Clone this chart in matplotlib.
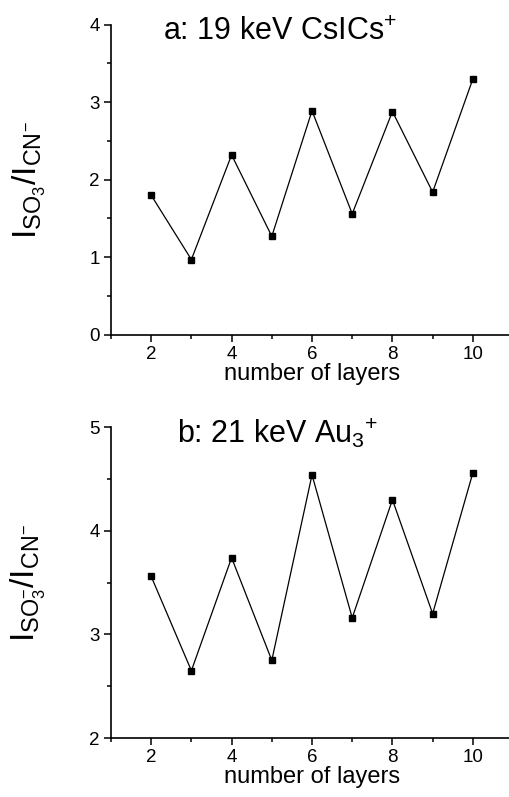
import numpy as np
import matplotlib
matplotlib.use("Agg")
import matplotlib.pyplot as plt
from matplotlib.ticker import MultipleLocator

plt.rcParams['font.family'] = ['Liberation Sans', 'DejaVu Sans']
plt.rcParams['mathtext.fontset'] = 'custom'
plt.rcParams['mathtext.rm'] = 'Liberation Sans'
plt.rcParams['mathtext.it'] = 'Liberation Sans'

layers = [2, 3, 4, 5, 6, 7, 8, 9, 10]
ratio_csics = [1.80, 0.97, 2.32, 1.27, 2.89, 1.56, 2.88, 1.84, 3.30]
ratio_au3 = [3.56, 2.65, 3.74, 2.75, 4.54, 3.16, 4.30, 3.20, 4.56]

titles = [r'a: 19 keV CsICs$^{+}$', r'b: 21 keV Au$_{3}$$^{+}$']
ylabels = [r'$\mathregular{I_{SO_3}/I_{CN^{-}}}$', r'$\mathregular{I_{SO_3^{-}}/I_{CN^{-}}}$']

fig = plt.figure(figsize=(5.09, 7.97), dpi=100)
ax1 = fig.add_axes([0.218, 0.580, 0.79, 0.389])
ax2 = fig.add_axes([0.218, 0.074, 0.79, 0.390])

for ax, y, title, ylab, ylim, tx in [(ax1, ratio_csics, titles[0], ylabels[0], (0, 4), 0.42),
                                      (ax2, ratio_au3, titles[1], ylabels[1], (2, 5), 0.415)]:
    ax.plot(layers, y, color='black', lw=0.9, marker='s', ms=4.6)
    ax.set_xlim(1, 11)
    ax.set_ylim(*ylim)
    ax.xaxis.set_major_locator(MultipleLocator(2))
    ax.xaxis.set_minor_locator(MultipleLocator(1))
    ax.yaxis.set_major_locator(MultipleLocator(1))
    ax.yaxis.set_minor_locator(MultipleLocator(0.5))
    ax.spines['top'].set_visible(False)
    ax.spines['right'].set_visible(False)
    for s in ('left', 'bottom'):
        ax.spines[s].set_linewidth(1.2)
    ax.tick_params(which='major', direction='out', length=5, width=1.1, labelsize=13.5, pad=3)
    ax.tick_params(which='minor', direction='out', length=3, width=1.1)
    ax.set_xlabel('number of layers', fontsize=17, labelpad=0)
    ax.set_ylabel(ylab, fontsize=24, labelpad=30)
    ax.text(tx, 0.951, title, transform=ax.transAxes, ha='center', va='baseline',
            fontsize=22)

fig.savefig('out.png', dpi=100)
